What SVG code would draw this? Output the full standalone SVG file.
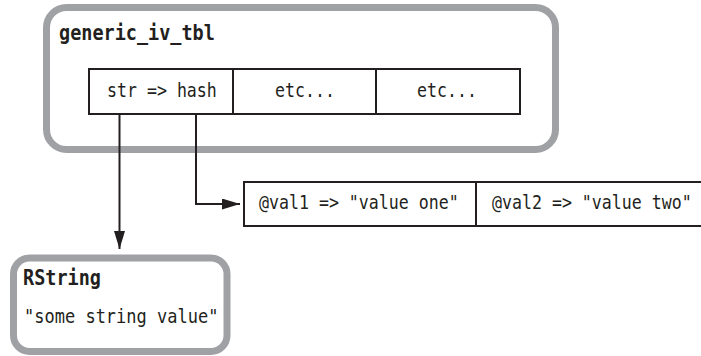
<svg xmlns="http://www.w3.org/2000/svg" width="701" height="356" viewBox="0 0 701 356">
<style>
.frame{fill:#fff;stroke:#a0a1a4;stroke-width:7}
.cell{fill:#fff;stroke:#231f20;stroke-width:2}
.t{font-family:"DejaVu Sans Mono","Liberation Mono",monospace;font-size:16.6px;fill:#231f20}
.b{font-family:"DejaVu Sans Mono","Liberation Mono",monospace;font-size:18.5px;font-weight:bold;fill:#231f20}
.c{fill:none;stroke:#231f20;stroke-width:2}
</style>
<defs>
<marker id="ah" markerWidth="18" markerHeight="11" refX="18" refY="5.5" orient="auto" markerUnits="userSpaceOnUse">
<path d="M0,0 L18,5.5 L0,11 Z" fill="#231f20"/>
</marker>
</defs>
<rect width="701" height="356" fill="#fff"/>
<g id="generic_iv_tbl">
<rect class="frame" x="46.5" y="7.5" width="509" height="142" rx="20"/>
<text class="b" transform="translate(59,40) scale(1,1.14)">generic_iv_tbl</text>
<rect class="cell" x="89" y="69" width="431" height="45"/>
<line class="cell" x1="233" y1="69" x2="233" y2="114"/>
<line class="cell" x1="376" y1="69" x2="376" y2="114"/>
<text class="t" transform="translate(107,97) scale(1,1.17)">str =&gt; hash</text>
<text class="t" transform="translate(275,97) scale(1,1.17)">etc...</text>
<text class="t" transform="translate(417,97) scale(1,1.17)">etc...</text>
</g>
<g id="hash">
<path class="cell" d="M701,182 H244 V226 H701"/>
<line class="cell" x1="476" y1="182" x2="476" y2="226"/>
<text class="t" transform="translate(259,209) scale(1,1.17)">@val1 =&gt; "value one"</text>
<text class="t" transform="translate(492,209) scale(1,1.17)">@val2 =&gt; "value two"</text>
</g>
<g id="RString">
<rect class="frame" x="13.5" y="258" width="213.5" height="93.5" rx="16"/>
<text class="b" transform="translate(23,285) scale(1,1.14)">RString</text>
<text class="t" transform="translate(24,323) scale(1,1.17)" style="font-size:17px">"some string value"</text>
</g>
<g id="connectors">
<path class="c" d="M119.5,114 V249" marker-end="url(#ah)"/>
<path class="c" d="M196,114 V204 H240" marker-end="url(#ah)"/>
</g>
</svg>
